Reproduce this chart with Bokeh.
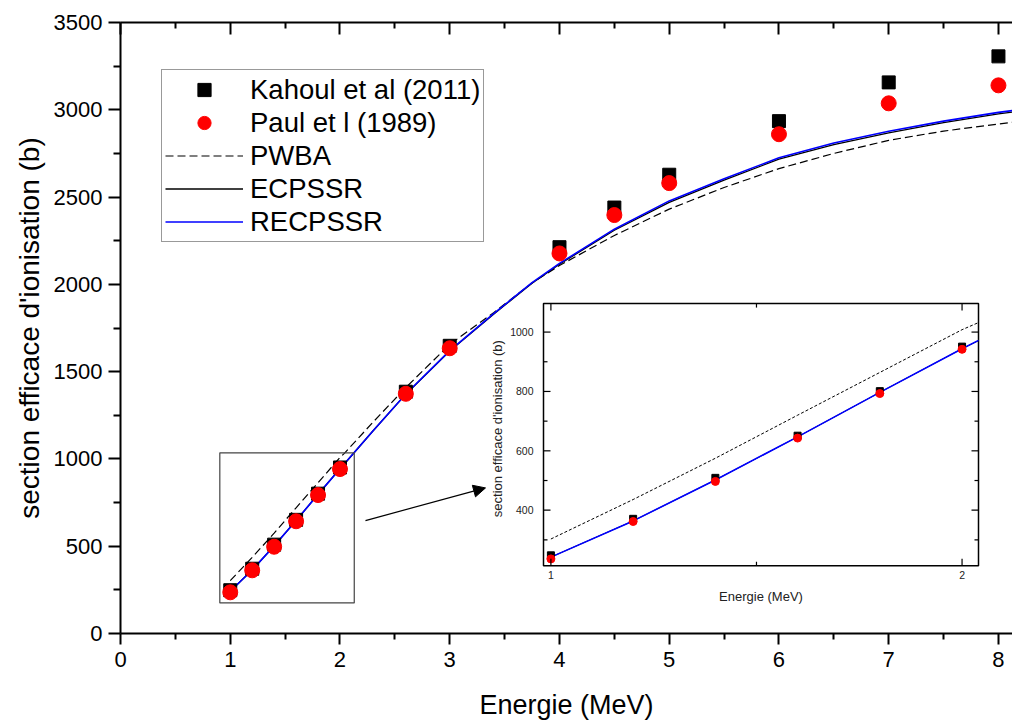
import math
from bokeh.plotting import figure
from bokeh.models import (Legend, LegendItem, LinearAxis, FixedTicker, Range1d,
                          Arrow, NormalHead, BoxAnnotation)
from bokeh.core.properties import value
from bokeh.embed import file_html
from bokeh.resources import INLINE

# ---------------- data ----------------
energy_exp = [1.0, 1.2, 1.4, 1.6, 1.8, 2.0, 2.6, 3.0, 4.0, 4.5, 5.0, 6.0, 7.0, 8.0]
kahoul = [248, 371, 509, 651, 801, 951, 1385, 1648, 2213, 2440, 2628, 2935, 3157, 3306]
paul = [236, 362, 497, 643, 793, 942, 1373, 1634, 2177, 2397, 2580, 2860, 3037, 3140]

energy_th = [1.0, 1.2, 1.4, 1.6, 1.8, 2.0, 2.04, 2.3, 2.6, 3.0, 3.4, 3.75, 4.0, 4.5,
             5.0, 5.5, 6.0, 6.5, 7.0, 7.5, 8.0, 8.2]
pwba = [303, 436, 575, 720, 864, 1008, 1032, 1210, 1409, 1656, 1838, 2008, 2108, 2280,
        2431, 2555, 2663, 2750, 2825, 2878, 2918, 2935]
ecpssr = [242, 364, 502, 647, 797, 944, 971, 1160, 1371, 1618, 1829, 2006, 2115, 2310,
          2470, 2597, 2717, 2801, 2868, 2926, 2976, 2993]
recpssr = [242, 364, 502, 647, 797, 944, 972, 1160, 1372, 1620, 1832, 2010, 2120, 2316,
           2478, 2605, 2725, 2810, 2877, 2935, 2985, 3002]

x_major = [0, 1, 2, 3, 4, 5, 6, 7, 8]
x_minor = [0.5, 1.5, 2.5, 3.5, 4.5, 5.5, 6.5, 7.5]
y_major = [0, 500, 1000, 1500, 2000, 2500, 3000, 3500]
y_minor = [250, 750, 1250, 1750, 2250, 2750, 3250]

inset_x_major = [1, 2]
inset_x_minor = [1.5]
inset_y_major = [400, 600, 800, 1000]
inset_y_minor = [300, 500, 700, 900]

# ---------------- layout constants ----------------
FONT = "Liberation Sans"
W, H = 1012, 722
FRAME = dict(left=120, right=1012, top=22, bottom=635)          # main plot frame (px)
MAIN_X = (0, 8.128)
MAIN_Y = (0, 3500)
INSET_PX = dict(left=543, right=978, top=304, bottom=567)       # inset frame (px)
INSET_X = (0.982, 2.04)
INSET_Y = (213, 1096)

zoom_box = dict(left=0.905, right=2.13, bottom=175, top=1035)
arrow_pos = dict(x_start=2.232, y_start=647, x_end=3.326, y_end=834)

# inset ranges mapped onto the whole main frame so that the inset window lands on INSET_PX
sx = (INSET_PX["right"] - INSET_PX["left"]) / (INSET_X[1] - INSET_X[0])
sy = (INSET_PX["bottom"] - INSET_PX["top"]) / (INSET_Y[1] - INSET_Y[0])
ix0 = INSET_X[0] - (INSET_PX["left"] - FRAME["left"]) / sx
ix1 = ix0 + (FRAME["right"] - FRAME["left"]) / sx
iy0 = INSET_Y[0] - (FRAME["bottom"] - INSET_PX["bottom"]) / sy
iy1 = iy0 + (FRAME["bottom"] - FRAME["top"]) / sy

# ---------------- main figure ----------------
p = figure(width=W, height=H, x_range=Range1d(*MAIN_X), y_range=Range1d(*MAIN_Y),
           output_backend="svg", toolbar_location=None,
           min_border_left=FRAME["left"], min_border_right=W - FRAME["right"],
           min_border_top=FRAME["top"], min_border_bottom=H - FRAME["bottom"])
p.extra_x_ranges = {"ix": Range1d(ix0, ix1)}
p.extra_y_ranges = {"iy": Range1d(iy0, iy1)}
p.xgrid.visible = False
p.ygrid.visible = False
p.outline_line_color = None
p.background_fill_color = "white"
p.border_fill_color = "white"

for ax in (p.xaxis[0], p.yaxis[0]):
    ax.axis_line_width = 2
    ax.axis_line_color = "black"
    ax.major_tick_line_width = 2
    ax.minor_tick_line_width = 2
    ax.major_tick_in = 0
    ax.minor_tick_in = 0
    ax.major_label_text_font = FONT
    ax.major_label_text_font_size = "22px"
    ax.major_label_text_color = "black"
    ax.axis_label_text_font = FONT
    ax.axis_label_text_font_style = "normal"
    ax.axis_label_text_color = "black"

p.xaxis[0].ticker = FixedTicker(ticks=x_major, minor_ticks=x_minor)
p.xaxis[0].major_tick_out = 11
p.xaxis[0].minor_tick_out = 6
p.xaxis[0].major_label_standoff = 7
p.xaxis[0].axis_label = "Energie (MeV)"
p.xaxis[0].axis_label_text_font_size = "27px"
p.xaxis[0].axis_label_standoff = 20

p.yaxis[0].ticker = FixedTicker(ticks=y_major, minor_ticks=y_minor)
p.yaxis[0].major_tick_out = 12
p.yaxis[0].minor_tick_out = 7
p.yaxis[0].major_label_standoff = 6
p.yaxis[0].axis_label = "section efficace d'ionisation (b)"
p.yaxis[0].axis_label_text_font_size = "28px"
p.yaxis[0].axis_label_standoff = 6

top_ax = LinearAxis(ticker=FixedTicker(ticks=x_major, minor_ticks=x_minor),
                    axis_line_width=2, major_tick_line_width=2, minor_tick_line_width=2,
                    major_tick_in=12, major_tick_out=0, minor_tick_in=6, minor_tick_out=0,
                    major_label_text_font_size="1px", major_label_text_color=None,
                    major_label_standoff=0)
p.add_layout(top_ax, "above")

# theory curves
r_pwba = p.line(energy_th, pwba, line_color="black", line_width=1.2, line_dash="8 4")
r_ecp = p.line(energy_th, ecpssr, line_color="black", line_width=1.3)
r_recp = p.line(energy_th, recpssr, line_color="#0000ff", line_width=1.6)
# experimental points
r_kah = p.scatter(energy_exp, kahoul, marker="square", size=13, fill_color="black", line_color="black")
r_paul = p.scatter(energy_exp, paul, marker="circle", size=15, fill_color="#ff0000", line_color="#ff0000")

p.add_layout(BoxAnnotation(**zoom_box, fill_alpha=0, fill_color=None, line_color="#444444",
                           line_width=1.2, line_alpha=1, line_dash="solid"))
p.add_layout(Arrow(end=NormalHead(size=12, fill_color="black", line_color="black"),
                   line_color="black", line_width=1.2, **arrow_pos))

legend = Legend(items=[
    LegendItem(label="Kahoul et al (2011)", renderers=[r_kah]),
    LegendItem(label="Paul et l (1989)", renderers=[r_paul]),
    LegendItem(label="PWBA", renderers=[r_pwba]),
    LegendItem(label="ECPSSR", renderers=[r_ecp]),
    LegendItem(label="RECPSSR", renderers=[r_recp]),
], location=(41, 391), padding=3, spacing=0, margin=0,
    glyph_width=78, glyph_height=33, label_height=33, label_standoff=7,
    label_text_font=FONT, label_text_font_size="27.5px", label_text_color="black",
    border_line_color="#333333", border_line_width=1, background_fill_color="white",
    background_fill_alpha=1)
p.add_layout(legend)

# ---------------- inset (drawn on the inset ranges) ----------------
IR = dict(x_range_name="ix", y_range_name="iy")
p.add_layout(BoxAnnotation(left=INSET_X[0], right=INSET_X[1], bottom=INSET_Y[0], top=INSET_Y[1],
                           fill_color="white", fill_alpha=1, line_color="black", line_width=1.5,
                           line_alpha=1, line_dash="solid", level="underlay", **IR))

sel_th = [i for i, e in enumerate(energy_th) if e <= INSET_X[1]]
sel_ex = [i for i, e in enumerate(energy_exp) if e <= INSET_X[1]]
ins_e = [energy_th[i] for i in sel_th]
p.line(ins_e, [pwba[i] for i in sel_th], line_color="black", line_width=1, line_dash="3 2", **IR)
p.line(ins_e, [ecpssr[i] for i in sel_th], line_color="black", line_width=1, **IR)
p.line(ins_e, [recpssr[i] for i in sel_th], line_color="#0000ff", line_width=1.6, **IR)
p.scatter([energy_exp[i] for i in sel_ex], [kahoul[i] for i in sel_ex], marker="square", size=7,
          fill_color="black", line_color="black", **IR)
p.scatter([energy_exp[i] for i in sel_ex], [paul[i] for i in sel_ex], marker="circle", size=8,
          fill_color="#ff0000", line_color="#ff0000", **IR)

# inset ticks (inward on all four sides)
MAJ, MIN = 7, 4
def xticks(vals, length):
    dy = length / sy
    n = len(vals)
    p.segment(x0=vals, y0=[INSET_Y[0]] * n, x1=vals, y1=[INSET_Y[0] + dy] * n,
              line_color="black", line_width=1.2, **IR)
    p.segment(x0=vals, y0=[INSET_Y[1]] * n, x1=vals, y1=[INSET_Y[1] - dy] * n,
              line_color="black", line_width=1.2, **IR)

def yticks(vals, length):
    dx = length / sx
    n = len(vals)
    p.segment(x0=[INSET_X[0]] * n, y0=vals, x1=[INSET_X[0] + dx] * n, y1=vals,
              line_color="black", line_width=1.2, **IR)
    p.segment(x0=[INSET_X[1]] * n, y0=vals, x1=[INSET_X[1] - dx] * n, y1=vals,
              line_color="black", line_width=1.2, **IR)

xticks(inset_x_major, MAJ)
xticks(inset_x_minor, MIN)
yticks(inset_y_major, MAJ)
yticks(inset_y_minor, MIN)

lab = dict(text_font=value(FONT), text_font_size=value("10.5px"), text_color="#222222")
p.text(x=inset_x_major, y=[INSET_Y[0]] * len(inset_x_major),
       text=[str(v) for v in inset_x_major], text_align="center", text_baseline="top",
       y_offset=5, **lab, **IR)
p.text(x=[INSET_X[0]] * len(inset_y_major), y=inset_y_major,
       text=[str(v) for v in inset_y_major], text_align="right", text_baseline="middle",
       x_offset=-10, **lab, **IR)
alab = dict(text_font=value(FONT), text_font_size=value("13px"), text_color="#222222")
p.text(x=[(INSET_X[0] + INSET_X[1]) / 2], y=[INSET_Y[0]], text=["Energie (MeV)"],
       text_align="center", text_baseline="middle", y_offset=31, **alab, **IR)
p.text(x=[INSET_X[0]], y=[(INSET_Y[0] + INSET_Y[1]) / 2], text=["section efficace d'ionisation (b)"],
       text_align="center", text_baseline="middle", angle=math.pi / 2, x_offset=-46, y_offset=-6,
       **alab, **IR)

open("out.html", "w").write(file_html(p, INLINE))
